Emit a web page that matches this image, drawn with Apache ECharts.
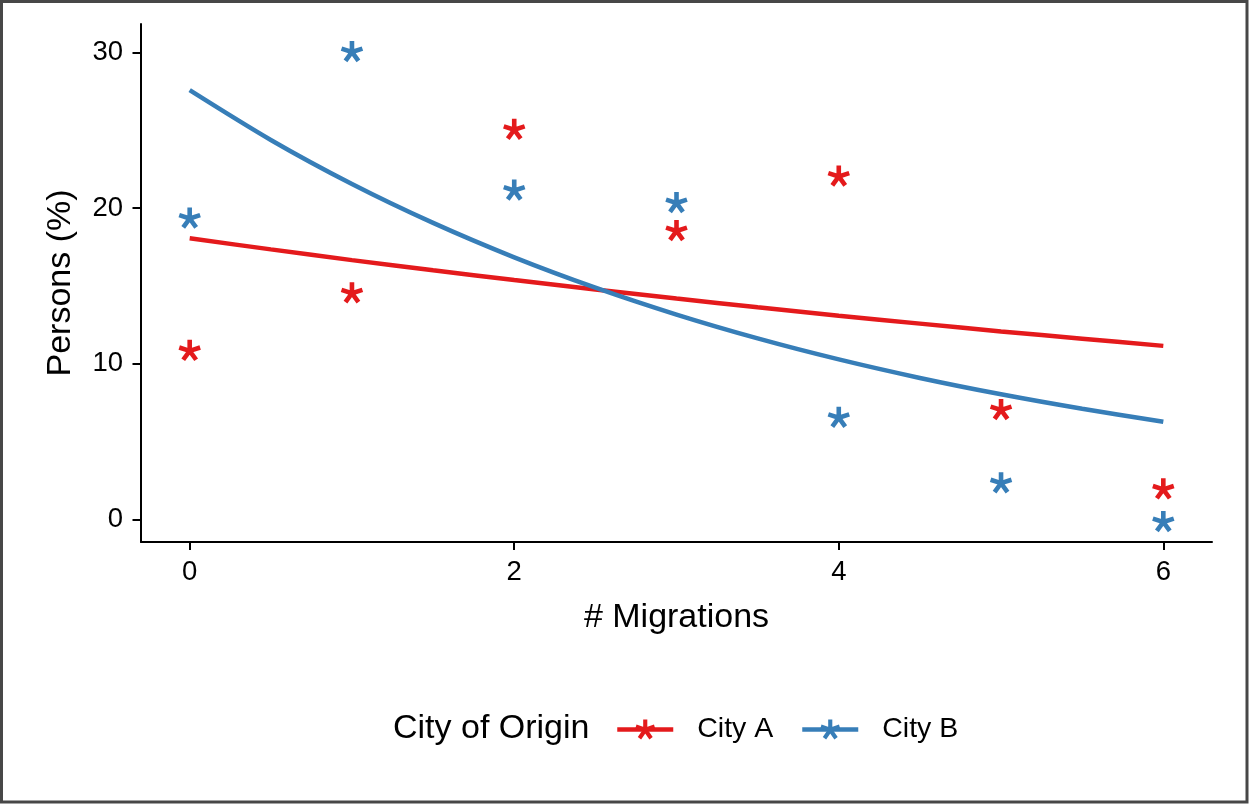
<!DOCTYPE html>
<html><head><meta charset="utf-8">
<script src="https://cdn.jsdelivr.net/npm/echarts@6/dist/echarts.min.js"></script>
<style>html,body{margin:0;padding:0;background:#fff}#c{width:1249px;height:804px}</style>
</head><body><div id="c"></div>
<script>
const migrations = [0, 1, 2, 3, 4, 5, 6];
const cityA = [11.0, 14.7, 25.2, 18.7, 22.2, 7.2, 2.1];
const cityB = [19.5, 30.2, 21.3, 20.5, 6.7, 2.5, 0.0];
const fitX = [0, 0.5, 1, 1.5, 2, 2.5, 3, 3.5, 4, 4.5, 5, 5.5, 6];
const fitA = [18.05, 17.34, 16.65, 16.00, 15.37, 14.76, 14.18, 13.62, 13.08, 12.57, 12.07, 11.60, 11.14];
const fitB = [27.57, 24.37, 21.54, 19.04, 16.83, 14.88, 13.15, 11.62, 10.27, 9.08, 8.03, 7.10, 6.27];
const xTicks = [0, 2, 4, 6];
const yTicks = [0, 10, 20, 30];
const seriesNames = ['City A', 'City B'];
const colors = ['#E41A1C', '#377EB8'];

function asterisk(L, w) {
  const angs = [90, 18, 162, -54, -126];
  const polys = angs.map(a => {
    const r = a * Math.PI / 180, dx = Math.cos(r), dy = -Math.sin(r);
    const nx = -dy, ny = dx, b = -w * 0.35, h = w / 2;
    return [[b*dx + nx*h, b*dy + ny*h], [L*dx + nx*h, L*dy + ny*h], [L*dx - nx*h, L*dy - ny*h], [b*dx - nx*h, b*dy - ny*h]];
  });
  let minX = Infinity, minY = Infinity, maxX = -Infinity, maxY = -Infinity;
  polys.forEach(p => p.forEach(q => {
    minX = Math.min(minX, q[0]); maxX = Math.max(maxX, q[0]);
    minY = Math.min(minY, q[1]); maxY = Math.max(maxY, q[1]);
  }));
  const d = polys.map(p => 'M' + p.map(q => (q[0] - minX).toFixed(2) + ' ' + (q[1] - minY).toFixed(2)).join('L') + 'Z').join(' ');
  return { path: 'path://' + d, w: maxX - minX, h: maxY - minY };
}
const star = asterisk(11, 4.6);

const FONT = 'Liberation Sans';
const chart = echarts.init(document.getElementById('c'), null, { renderer: 'canvas' });
const series = [];
seriesNames.forEach((n, i) => {
  const fit = i === 0 ? fitA : fitB;
  series.push({
    name: n, type: 'line', data: fitX.map((x, k) => [x, fit[k]]),
    symbol: star.path, showSymbol: false, smooth: 0.3,
    lineStyle: { width: 4.5, color: colors[i] }, itemStyle: { color: colors[i] },
    z: 2, silent: true
  });
});
seriesNames.forEach((n, i) => {
  const vals = i === 0 ? cityA : cityB;
  series.push({
    name: n, type: 'scatter', data: migrations.map((x, k) => [x, vals[k]]),
    symbol: star.path, symbolSize: [star.w, star.h], symbolOffset: [0, 2.4],
    itemStyle: { color: colors[i], opacity: 1 }, z: 3
  });
});

chart.setOption({
  animation: false,
  backgroundColor: '#fff',
  textStyle: { fontFamily: FONT },
  grid: { left: 141, top: 24, width: 1071, height: 518, containLabel: false },
  xAxis: {
    type: 'value', min: -0.3, max: 6.3,
    name: '# Migrations', nameLocation: 'middle', nameGap: 58.5,
    nameTextStyle: { fontSize: 34, color: '#000', fontFamily: FONT },
    axisLine: { show: true, onZero: false, lineStyle: { color: '#000', width: 2 } },
    axisTick: { show: true, length: 8, customValues: xTicks, lineStyle: { color: '#000', width: 2 } },
    axisLabel: { customValues: xTicks, margin: 16, fontSize: 27.5, color: '#000', fontFamily: FONT },
    splitLine: { show: false }
  },
  yAxis: {
    type: 'value', min: -1.46, max: 31.82,
    name: 'Persons (%)', nameLocation: 'middle', nameGap: 63,
    nameTextStyle: { fontSize: 34, color: '#000', fontFamily: FONT },
    axisLine: { show: true, onZero: false, lineStyle: { color: '#000', width: 2 } },
    axisTick: { show: true, length: 8.5, customValues: yTicks, lineStyle: { color: '#000', width: 2 } },
    axisLabel: { customValues: yTicks, margin: 18, fontSize: 27.5, color: '#000', fontFamily: FONT },
    splitLine: { show: false }
  },
  legend: seriesNames.map((n, i) => ({
    data: [n], left: i === 0 ? 615 : 800, top: 715, padding: 0,
    itemWidth: 56, itemHeight: 25, selectedMode: false,
    lineStyle: { width: 4.5 },
    formatter: '{g| }{name}',
    textStyle: { fontSize: 28.5, color: '#000', fontFamily: FONT, rich: { g: { width: 19 } } }
  })),
  graphic: [
    { type: 'rect', shape: { x: 1.5, y: 1.5, width: 1245.5, height: 800.5 },
      style: { fill: 'none', stroke: '#474747', lineWidth: 3 }, silent: true },
    { type: 'text', left: 393, top: 711.5,
      style: { text: 'City of Origin', font: '34px "Liberation Sans"', fill: '#000' } }
  ],
  series: series
});
</script></body></html>
